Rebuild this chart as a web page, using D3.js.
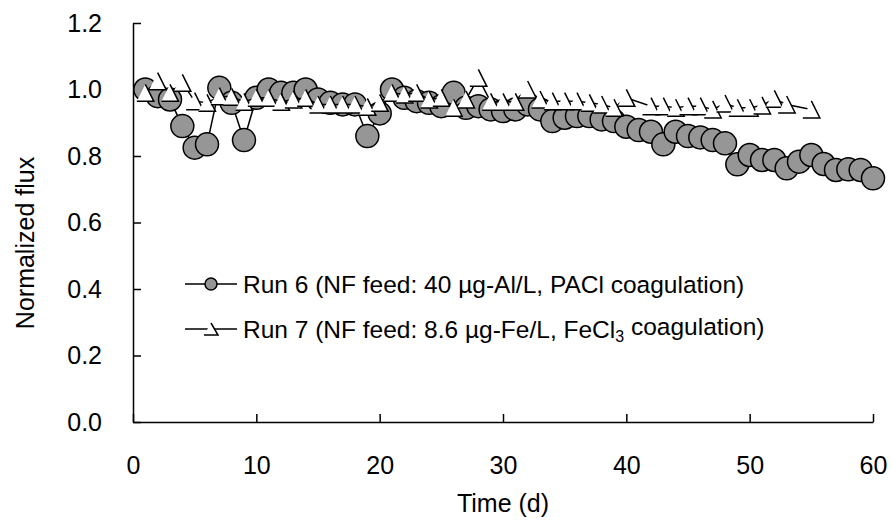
<!DOCTYPE html>
<html>
<head>
<meta charset="utf-8">
<script src="https://cdn.jsdelivr.net/npm/d3@7"></script>
<style>
  body { margin: 0; background: #fff; }
  svg { display: block; font-family: "Liberation Sans", Arial, sans-serif; }
</style>
</head>
<body>
<svg id="chart"></svg>
<script>
// Run 6 (PACl) - one point per day
var run6Days = [1,2,3,4,5,6,7,8,9,10,11,12,13,14,15,16,17,18,19,20,
                21,22,23,24,25,26,27,28,29,30,31,32,33,34,35,36,37,38,39,40,
                41,42,43,44,45,46,47,48,49,50,51,52,53,54,55,56,57,58,59,60]
var run6Flux = [1.00,0.98,0.97,0.89,0.825,0.835,1.005,0.96,0.848,0.975,
                1.00,0.99,0.99,1.00,0.97,0.96,0.955,0.955,0.86,0.928,
                1.00,0.975,0.965,0.96,0.95,0.99,0.945,0.95,0.94,0.935,
                0.94,0.955,0.94,0.905,0.915,0.92,0.92,0.91,0.905,0.888,
                0.878,0.873,0.835,0.873,0.86,0.856,0.848,0.838,0.775,0.803,
                0.788,0.788,0.763,0.783,0.803,0.776,0.758,0.76,0.758,0.733]

// Run 7 (FeCl3)
var run7Days = [1,2,3,4,5,6,7,8,9,10,11,12,13,14,15,16,17,18,19,20,
                21,22,23,24,25,26,27,28,29,30,31,32,33,34,35,36,37,38,39,40,
                42,43,44,45,46,47,48,49,50,51,52,53,55]
var run7Flux = [0.99,1.025,0.99,1.02,0.965,0.96,0.98,0.978,0.963,0.975,
                0.975,0.963,0.97,0.975,0.955,0.955,0.955,0.955,0.948,0.96,
                0.99,0.985,0.99,0.97,0.975,0.945,0.97,1.035,0.963,0.963,
                0.963,1.0,0.97,0.965,0.965,0.965,0.96,0.955,0.945,0.975,
                0.95,0.95,0.945,0.95,0.95,0.94,0.958,0.945,0.945,0.952,0.972,0.955,0.94]

var xTicks = [0,10,20,30,40,50,60]
var yTicks = [0,0.2,0.4,0.6,0.8,1.0,1.2]
var legendLabels = ["Run 6 (NF feed: 40 \u00b5g-Al/L, PACl coagulation)",
                    "Run 7 (NF feed: 8.6 \u00b5g-Fe/L, FeCl"]

var width = 892, height = 527
var margin = {top: 23, right: 19, bottom: 105, left: 133}

var svg = d3.select('#chart')
    .attr("width", width)
    .attr("height", height)
    .attr("viewBox", [0, 0, width, height])

var x = d3.scaleLinear()
    .domain([0, 60])
    .range([margin.left, width - margin.right])
var y = d3.scaleLinear()
    .domain([0, 1.2])
    .range([height - margin.bottom, margin.top])

var xAxis = g => g
    .attr("transform", `translate(0,${height - margin.bottom})`)
    .call(d3.axisBottom(x).tickValues(xTicks).tickFormat(d3.format("d"))
        .tickSizeInner(-8).tickSizeOuter(0).tickPadding(34))
    .call(g => g.selectAll("text").attr("font-size", 25).attr("fill", "#000")
        .attr("font-family", "Liberation Sans, Arial, sans-serif"))
    .call(g => g.selectAll("line, path").attr("stroke", "#000").attr("stroke-width", 1.5))
var yAxis = g => g
    .attr("transform", `translate(${margin.left},0)`)
    .call(d3.axisLeft(y).tickValues(yTicks).tickFormat(d3.format(".1f"))
        .tickSizeInner(-8).tickSizeOuter(0).tickPadding(31))
    .call(g => g.selectAll("text").attr("font-size", 25).attr("fill", "#000")
        .attr("font-family", "Liberation Sans, Arial, sans-serif"))
    .call(g => g.selectAll("line, path").attr("stroke", "#000").attr("stroke-width", 1.5))

svg.append("g").call(xAxis)
svg.append("g").call(yAxis)

// axis titles
svg.append("text")
    .attr("x", x(30))
    .attr("y", 512)
    .attr("text-anchor", "middle")
    .attr("font-size", 25)
    .text("Time (d)")
svg.append("text")
    .attr("transform", "translate(34,243) rotate(-90)")
    .attr("text-anchor", "middle")
    .attr("font-size", 25)
    .text("Normalized flux")

// triangle marker drawn as Excel renders it here: right side + base
function triPath(w, h) {
    return `M0,${-h / 2}L${w / 2},${h / 2}L${-w / 2},${h / 2}`
}

var line = d3.line()
    .x(d => x(d[0]))
    .y(d => y(d[1]))

var run6 = run6Days.map((d, i) => [d, run6Flux[i]])
var run7 = run7Days.map((d, i) => [d, run7Flux[i]])

var plot = svg.append("g")

plot.append("path")
    .attr("d", line(run6))
    .attr("fill", "none")
    .attr("stroke", "#000")
    .attr("stroke-width", 1.5)
plot.append("g")
    .selectAll("circle")
    .data(run6)
    .join("circle")
    .attr("cx", d => x(d[0]))
    .attr("cy", d => y(d[1]))
    .attr("r", 11.5)
    .attr("fill", "#969696")
    .attr("stroke", "#000")
    .attr("stroke-width", 1.5)

plot.append("path")
    .attr("d", line(run7))
    .attr("fill", "none")
    .attr("stroke", "#000")
    .attr("stroke-width", 1.5)
plot.append("g")
    .selectAll("path")
    .data(run7)
    .join("path")
    .attr("transform", d => `translate(${x(d[0])},${y(d[1])})`)
    .attr("d", triPath(17, 17))
    .attr("fill", "#fff")
    .attr("stroke", "#000")
    .attr("stroke-width", 1.5)

// legend
var legend = svg.append("g")
var rows = [284, 329]
rows.forEach(function(ry, i) {
    legend.append("line")
        .attr("x1", 185).attr("x2", 237)
        .attr("y1", ry).attr("y2", ry)
        .attr("stroke", "#000").attr("stroke-width", 1.5)
    if (i == 0) {
        legend.append("circle")
            .attr("cx", 211).attr("cy", ry).attr("r", 6)
            .attr("fill", "#969696").attr("stroke", "#000").attr("stroke-width", 1.5)
    } else {
        legend.append("path")
            .attr("transform", `translate(211,${ry})`)
            .attr("d", triPath(14, 12))
            .attr("fill", "#fff").attr("stroke", "#000").attr("stroke-width", 1.5)
    }
    var t = legend.append("text")
        .attr("x", 243)
        .attr("y", ry)
        .attr("dy", "0.35em")
        .attr("font-size", 24.5)
        .text(legendLabels[i])
    if (i == 1) {
        t.append("tspan").attr("font-size", 16).attr("dy", "0.3em").text("3")
        t.append("tspan").attr("dy", "-0.3em").attr("font-size", 24.5).text(" coagulation)")
    }
})
</script>
</body>
</html>
